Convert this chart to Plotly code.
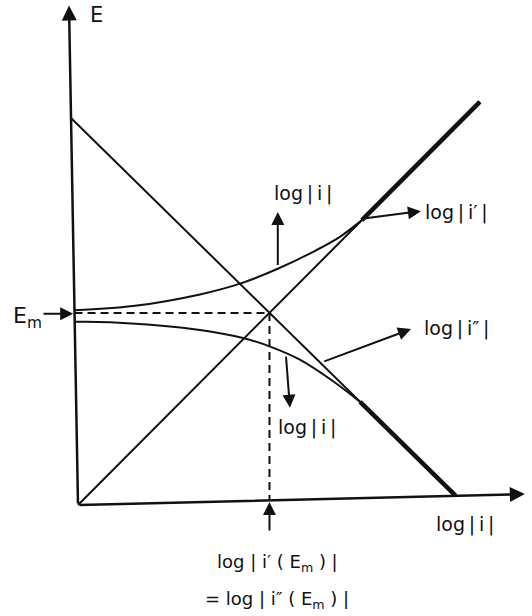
import plotly.graph_objects as go

# Evans-type diagram: E versus log|i| for two partial reactions
# Coordinates are in diagram units (log|i| horizontally, E vertically).

# partial current lines
anodic_x = [0.0, 8.93]
anodic_y = [0.0, 8.96]
cathodic_x = [-0.156, 8.39]
cathodic_y = [8.60, 0.21]

# measured net-current curve above E_m (log|i'|)
upper_x = [-0.07, 1.22, 2.71, 3.60, 4.44, 5.29, 5.82, 6.31]
upper_y = [4.33, 4.42, 4.68, 4.92, 5.25, 5.66, 5.96, 6.33]

# measured net-current curve below E_m (log|i''|)
lower_x = [-0.07, 0.71, 2.71, 3.67, 4.27, 4.93, 5.67, 6.27]
lower_y = [4.07, 4.06, 3.89, 3.71, 3.52, 3.23, 2.75, 2.29]

# axes (slightly skewed as drawn)
xaxis_end = [9.93, 0.244]
yaxis_end = [-0.20, 11.10]

INK = "#111111"
FONT = "DejaVu Sans"
TS = "\u2009"  # thin space used in the hand-lettered labels

# intersection of the two partial lines -> mixed potential E_m
sa = (anodic_y[1] - anodic_y[0]) / (anodic_x[1] - anodic_x[0])
sc = (cathodic_y[1] - cathodic_y[0]) / (cathodic_x[1] - cathodic_x[0])
ca = anodic_y[0] - sa * anodic_x[0]
cc = cathodic_y[0] - sc * cathodic_x[0]
xm = (cc - ca) / (sa - sc)
Em = ca + sa * xm

fig = go.Figure()

thin = dict(color=INK, width=2)
thick = dict(color=INK, width=4.5)

fig.add_trace(go.Scatter(x=anodic_x, y=anodic_y, mode="lines", line=thin))
fig.add_trace(go.Scatter(x=cathodic_x, y=cathodic_y, mode="lines", line=thin))
fig.add_trace(go.Scatter(x=upper_x, y=upper_y, mode="lines",
                         line=dict(color=INK, width=2, shape="spline",
                                   smoothing=1.0)))
fig.add_trace(go.Scatter(x=lower_x, y=lower_y, mode="lines",
                         line=dict(color=INK, width=2, shape="spline",
                                   smoothing=1.0)))
# where the net curves coincide with the partial lines
fig.add_trace(go.Scatter(x=[upper_x[-1], anodic_x[1]],
                         y=[upper_y[-1], anodic_y[1]], mode="lines", line=thick))
fig.add_trace(go.Scatter(x=[lower_x[-1], cathodic_x[1]],
                         y=[lower_y[-1], cathodic_y[1]], mode="lines", line=thick))

# dashed construction lines to E_m and log|i'(E_m)|
y_axis_at_Em = yaxis_end[0] * Em / yaxis_end[1]
fig.add_trace(go.Scatter(x=[y_axis_at_Em, xm], y=[Em, Em], mode="lines",
                         line=dict(color=INK, width=2, dash="8px,5px")))
x_axis_at_xm = xaxis_end[1] * xm / xaxis_end[0]
fig.add_trace(go.Scatter(x=[xm, xm], y=[Em, x_axis_at_xm], mode="lines",
                         line=dict(color=INK, width=2, dash="8px,5px")))

ann = []


def arrow(x0, y0, x1, y1, width=2, size=1.3, head=2):
    ann.append(dict(x=x1, y=y1, ax=x0, ay=y0, xref="x", yref="y",
                    axref="x", ayref="y", text="", showarrow=True,
                    arrowhead=head, arrowsize=size, arrowwidth=width,
                    arrowcolor=INK))


def label(x, y, text, size=19, xanchor="center"):
    ann.append(dict(x=x, y=y, xref="x", yref="y", text=text, showarrow=False,
                    xanchor=xanchor, yanchor="middle",
                    font=dict(family=FONT, size=size, color=INK)))


def logabs(inner):
    return "log" + TS + "|" + TS + inner + TS + "|"


# axes
arrow(0, 0, xaxis_end[0], xaxis_end[1], width=2.5, size=1.2)
arrow(0, 0, yaxis_end[0], yaxis_end[1], width=2.5, size=1.2)
label(0.42, 10.89, "E", size=21)
label(8.6, -0.44, logabs("i"))

# E_m marker
arrow(-0.80, Em - 0.02, y_axis_at_Em - 0.03, Em - 0.02, width=2)
label(-1.13, 4.16, "E<sub>m</sub>", size=22)

# annotations on the curves
arrow(4.44, 5.30, 4.44, 6.51)
label(5.0, 6.93, logabs("i"))
arrow(6.31, 6.36, 7.62, 6.53)
label(8.40, 6.51, logabs("i′"))
arrow(5.44, 3.18, 7.40, 3.91)
label(8.42, 3.93, logabs("i″"))
arrow(4.62, 3.33, 4.71, 2.16)
label(5.09, 1.73, logabs("i"))

# log|i'(E_m)| marker on the abscissa
arrow(xm, -0.60, xm, x_axis_at_xm - 0.04)
label(3.04, -1.29, "log | i′ ( E<sub>m</sub> ) |", size=18, xanchor="left")
label(2.78, -2.11, "= log | i″ ( E<sub>m</sub> ) |", size=18, xanchor="left")

fig.update_layout(
    width=532, height=616, autosize=False,
    margin=dict(l=0, r=0, t=0, b=0),
    paper_bgcolor="white", plot_bgcolor="white",
    showlegend=False,
    annotations=ann,
    xaxis=dict(range=[-78 / 45, 454 / 45], visible=False, fixedrange=True),
    yaxis=dict(range=[-111 / 45, 505 / 45], visible=False, fixedrange=True),
)

fig.write_html("out.html")
